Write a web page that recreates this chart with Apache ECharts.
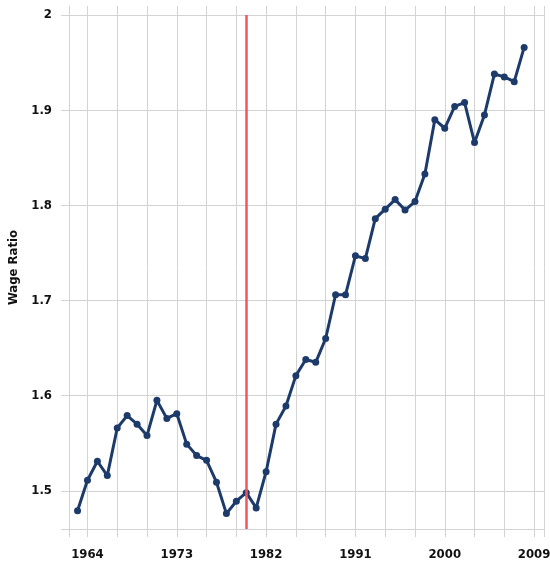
<!DOCTYPE html>
<html>
<head>
<meta charset="utf-8">
<script src="https://cdn.jsdelivr.net/npm/echarts@6/dist/echarts.min.js"></script>
<style>
  html, body { margin: 0; padding: 0; background: #fff; }
  #chart { width: 550px; height: 569px; }
</style>
</head>
<body>
<div id="chart"></div>
<script>
// years and wage ratio values
const years = [1963, 1964, 1965, 1966, 1967, 1968, 1969, 1970, 1971, 1972, 1973, 1974, 1975,
  1976, 1977, 1978, 1979, 1980, 1981, 1982, 1983, 1984, 1985, 1986, 1987, 1988, 1989, 1990,
  1991, 1992, 1993, 1994, 1995, 1996, 1997, 1998, 1999, 2000, 2001, 2002, 2003, 2004, 2005,
  2006, 2007, 2008];
const wageRatio = [1.479, 1.511, 1.531, 1.516, 1.566, 1.579, 1.570, 1.558, 1.595, 1.576, 1.581,
  1.549, 1.537, 1.532, 1.509, 1.476, 1.489, 1.498, 1.482, 1.520, 1.570, 1.589, 1.621, 1.638,
  1.635, 1.660, 1.706, 1.706, 1.747, 1.744, 1.786, 1.796, 1.806, 1.795, 1.804, 1.833, 1.890,
  1.881, 1.904, 1.908, 1.866, 1.895, 1.938, 1.935, 1.930, 1.966];

// axis ticks / labels
const xTicks = [1962.14, 1964, 1967, 1970, 1973, 1976, 1979, 1982, 1985, 1988, 1991, 1994,
  1997, 2000, 2003, 2006, 2009, 2010];
const xLabels = [1964, 1973, 1982, 1991, 2000, 2009];
const yTicks = [1.4598, 1.5, 1.6, 1.7, 1.8, 1.9, 2.0];
const yLabels = [1.5, 1.6, 1.7, 1.8, 1.9, 2.0];
const markYear = 1980;

const FONT = '"DejaVu Sans Condensed", "DejaVu Sans", sans-serif';
const GRID_COLOR = '#d3d3d3';

const chart = echarts.init(document.getElementById('chart'));

chart.setOption({
  animation: false,
  grid: { left: 69, right: 6, top: 6, bottom: 40, outerBoundsMode: 'none', containLabel: false },
  xAxis: {
    type: 'value',
    min: 1962.14,
    max: 2010,
    axisLine: { show: true, lineStyle: { color: GRID_COLOR, width: 1 } },
    axisTick: { show: true, length: 8, customValues: xTicks, lineStyle: { color: GRID_COLOR } },
    axisLabel: {
      customValues: xLabels,
      formatter: v => String(v),
      margin: 19,
      color: '#111',
      fontFamily: FONT,
      fontWeight: 'bold',
      fontSize: 13
    },
    splitLine: { show: true, lineStyle: { color: GRID_COLOR, width: 1 } }
  },
  yAxis: {
    type: 'value',
    min: 1.4598,
    max: 2.0095,
    name: 'Wage Ratio',
    nameLocation: 'middle',
    nameGap: 34,
    nameTextStyle: { color: '#111', fontFamily: FONT, fontWeight: 'bold', fontSize: 13 },
    axisLine: { show: true, lineStyle: { color: GRID_COLOR, width: 1 } },
    axisTick: { show: true, length: 8, customValues: yTicks, lineStyle: { color: GRID_COLOR } },
    axisLabel: {
      customValues: yLabels,
      formatter: v => String(v),
      margin: 17,
      color: '#111',
      fontFamily: FONT,
      fontWeight: 'bold',
      fontSize: 13
    },
    splitLine: { show: true, lineStyle: { color: GRID_COLOR, width: 1 } }
  },
  series: [{
    type: 'line',
    data: years.map((y, i) => [y, wageRatio[i]]),
    symbol: 'circle',
    symbolSize: 7,
    lineStyle: { color: '#1d3b6a', width: 3 },
    itemStyle: { color: '#1d3b6a' },
    markLine: {
      silent: true,
      symbol: 'none',
      label: { show: false },
      lineStyle: { color: '#f0565c', width: 2.5, type: 'solid' },
      data: [[{ coord: [markYear, 1.4598] }, { coord: [markYear, 2.0] }]]
    },
    z: 3
  }]
});
</script>
</body>
</html>
